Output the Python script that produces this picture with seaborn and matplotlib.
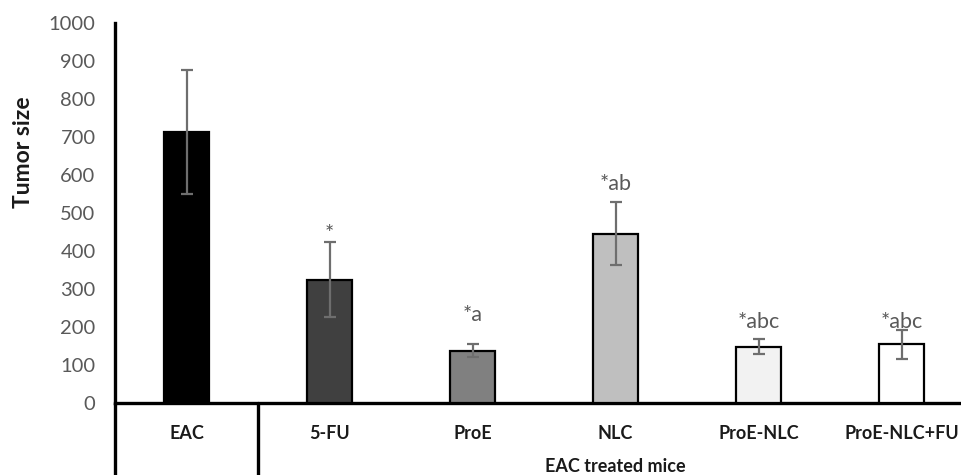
import matplotlib
matplotlib.use("Agg")
import matplotlib.pyplot as plt
import seaborn as sns
import pandas as pd

categories = ["EAC", "5-FU", "ProE", "NLC", "ProE-NLC", "ProE-NLC+FU"]
means = [713, 325, 137, 446, 148, 155]
errors = [163, 98, 17, 82, 20, 38]
labels = ["", "*", "*a", "*ab", "*abc", "*abc"]
label_heights = [0, 418, 205, 550, 188, 188]
colors = ["#000000", "#404040", "#808080", "#bfbfbf", "#f2f2f2", "#ffffff"]
yticks = list(range(0, 1001, 100))

sns.set_theme(style="white")
plt.rcParams["font.family"] = ["Lato", "DejaVu Sans"]

df = pd.DataFrame({"group": categories, "size": means})

W, H = 961, 475
fig = plt.figure(figsize=(W / 100, H / 100), dpi=100)
ax = fig.add_axes([115 / W, (H - 403) / H, (W - 115) / W, (403 - 23) / H])

sns.barplot(data=df, x="group", y="size", hue="group", palette=colors,
            legend=False, width=0.32, edgecolor="black", linewidth=1.6,
            errorbar=None, ax=ax, zorder=3)
ax.errorbar(range(len(categories)), means, yerr=errors, fmt="none",
            ecolor="#6e6e6e", elinewidth=1.6, capsize=4.5, capthick=1.6, zorder=4)

for i, (lab, h) in enumerate(zip(labels, label_heights)):
    if lab:
        ax.text(i, h, lab, ha="center", va="bottom", fontsize=15.5,
                color="#595959", zorder=5)

ax.set_ylim(0, 1000)
ax.set_xlim(-0.5, 5.5 - 12 / 143)
ax.set_yticks(yticks)
ax.set_yticklabels([str(t) for t in yticks])
ax.tick_params(axis="y", length=0, pad=14, labelsize=14.5, labelcolor="#595959")
ax.tick_params(axis="x", length=0, pad=16, labelsize=13)
for t in ax.get_xticklabels():
    t.set_fontweight("bold")
    t.set_color("#1a1a1a")

ax.set_xlabel("")
ax.set_ylabel("Tumor size", fontsize=16.5, fontweight="bold", color="#1a1a1a")
ax.yaxis.set_label_coords(-(115 - 34) / (W - 115), (403 - 152) / 380)

for s in ["top", "right"]:
    ax.spines[s].set_visible(False)
ax.spines["left"].set_linewidth(2.4)
ax.spines["bottom"].set_linewidth(2.4)
ax.spines["left"].set_color("black")
ax.spines["bottom"].set_color("black")
ax.spines["left"].set_bounds(0, 1000)

# table-like extensions below the axis
ax.axvline(-0.5, ymin=-0.2, ymax=0, color="black", lw=2.4, clip_on=False)
ax.axvline(0.5, ymin=-0.2, ymax=0, color="black", lw=2.4, clip_on=False)

xr = ax.get_xlim()[1]
ax.text((0.5 + xr) / 2 + 0.04, -0.168, "EAC treated mice", transform=ax.get_xaxis_transform(),
        ha="center", va="center", fontsize=13, fontweight="bold", color="#1a1a1a")

fig.savefig("out.png", dpi=100, facecolor="white")
